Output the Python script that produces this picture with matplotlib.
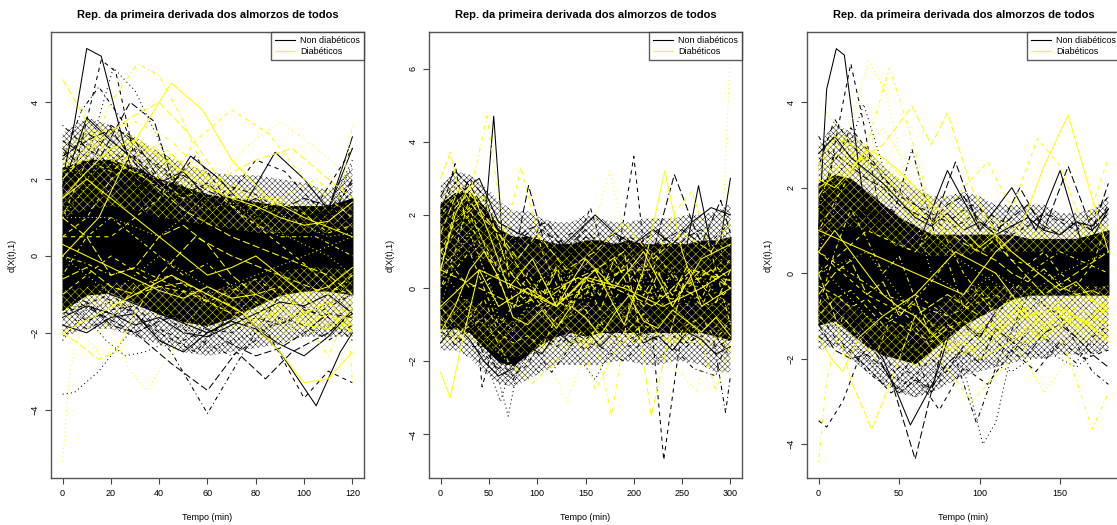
import matplotlib
matplotlib.use("Agg")
import matplotlib.pyplot as plt
from matplotlib.lines import Line2D

plt.rcParams['font.family'] = ['Liberation Sans', 'DejaVu Sans']
plt.rcParams['hatch.linewidth'] = 0.3

title = "Rep. da primeira derivada dos almorzos de todos"
xlabel = "Tempo (min)"
ylabel = "d(X(t),1)"
legend_labels = ["Non diabéticos", "Diabéticos"]

# ---------------- panel 1: 0-120 min ----------------
p1_grid = [0, 10, 20, 30, 40, 50, 60, 70, 80, 90, 100, 110, 120]
# solid core and looser outer fringe of the curve bundle
p1_core_hi = [2.3, 2.5, 2.5, 2.3, 2.0, 1.8, 1.6, 1.5, 1.4, 1.3, 1.3, 1.3, 1.5]
p1_core_lo = [-1.4, -1.0, -0.95, -1.2, -1.5, -1.7, -1.8, -1.6, -1.3, -1.0, -0.9, -0.9, -1.0]
p1_outer_hi = [3.2, 3.6, 3.4, 3.1, 2.7, 2.4, 2.2, 2.1, 2.1, 2.0, 1.9, 1.7, 2.3]
p1_outer_lo = [-2.1, -1.9, -1.9, -2.1, -2.3, -2.5, -2.6, -2.5, -2.4, -2.3, -2.1, -2.1, -2.1]
# yellow-heavy parts of the bundle
p1_ytop_hi = [2.9, 3.3, 3.3, 3.1, 2.8, 2.5, 2.2, 1.9, 1.7, 1.5, 1.4, 1.3, 1.4]
p1_ytop_lo = [1.0, 1.2, 1.3, 1.2, 1.0, 0.9, 0.8, 0.7, 0.6, 0.6, 0.6, 0.6, 0.7]
p1_ybot_hi = [-0.9, -0.8, -0.7, -0.7, -0.8, -0.9, -0.9, -0.8, -0.6, -0.4, -0.3, -0.3, -0.4]
p1_ybot_lo = [-1.5, -1.3, -1.3, -1.4, -1.6, -1.8, -1.9, -1.9, -1.9, -1.9, -1.9, -1.9, -1.9]

# individual curves with their own knots (t, value)
p1_black = [
    ([0, 5, 10, 16, 25, 35, 45, 60, 80, 100, 120], [2.0, 3.5, 5.4, 5.2, 3.0, 1.0, 0.0, -0.5, 0.0, 0.5, 1.0]),
    ([0, 8, 16, 22, 30, 40, 55, 75, 95, 120], [1.0, 3.0, 5.1, 4.8, 2.5, 0.5, -0.5, 0.0, 0.5, 1.5]),
    ([0, 10, 21, 30, 40, 50, 65, 85, 105, 120], [0.5, 2.5, 4.9, 4.3, 3.0, 1.5, 0.5, 0.0, 0.5, 2.5]),
    ([0, 8, 15, 25, 35, 50, 70, 90, 110, 120], [2.5, 3.8, 4.4, 3.5, 2.0, 0.5, -0.5, -0.5, 0.0, 1.0]),
    ([0, 15, 28, 38, 50, 65, 80, 100, 120], [1.0, 2.5, 4.0, 3.5, 1.0, 0.0, -0.5, 0.0, 0.5]),
    ([0, 15, 30, 42, 53, 65, 75, 88, 100, 110, 120], [0.5, 1.5, 2.0, 1.5, 2.6, 2.0, 1.3, 2.7, 2.0, 1.2, 3.1]),
    ([0, 20, 40, 55, 68, 80, 92, 105, 120], [1.5, 2.5, 1.5, 2.6, 1.5, 2.5, 2.2, 1.3, 2.8]),
    ([0, 5, 15, 25, 35, 45, 55, 70, 85, 100, 120], [-3.6, -3.55, -3.0, -2.2, -1.5, -1.5, -2.0, -1.5, -1.0, -0.5, 0.0]),
    ([0, 15, 30, 45, 60, 75, 90, 105, 120], [0.0, -1.0, -1.5, -2.5, -4.1, -2.5, -1.0, -1.5, -1.0]),
    ([0, 15, 30, 45, 60, 72, 84, 95, 110, 120], [-1.0, -1.5, -2.0, -2.8, -3.5, -2.5, -3.2, -2.5, -2.0, -1.5]),
    ([0, 20, 40, 60, 75, 90, 105, 115, 120], [-0.5, -1.0, -1.5, -2.0, -1.5, -2.5, -3.9, -2.5, -2.0]),
    ([0, 20, 40, 55, 70, 85, 100, 110, 120], [-1.5, -1.0, -2.0, -2.5, -1.5, -2.0, -3.7, -3.0, -3.3]),
    ([0, 10, 18, 26, 34, 45, 60, 80, 100, 120], [-1.0, -1.6, -2.2, -2.6, -2.5, -2.2, -2.5, -2.0, -1.5, -1.0]),
]
# curves sampled on the 10-min grid
p1_black_grid = [
    [2.5, 3.2, 2.8, 2.2, 2.4, 1.8, 1.3, 1.6, 1.2, 1.0, 1.3, 1.0, 1.7],
    [2.8, 2.2, 3.4, 3.0, 2.0, 1.6, 1.9, 1.3, 1.0, 1.4, 1.1, 0.9, 2.0],
    [1.8, 3.6, 3.0, 2.5, 1.9, 2.2, 1.5, 1.2, 1.5, 1.1, 0.9, 1.2, 2.8],
    [3.0, 2.6, 2.2, 2.6, 2.0, 1.5, 1.8, 1.4, 1.1, 1.3, 1.0, 1.2, 1.9],
    [2.0, 2.9, 2.6, 2.0, 2.2, 2.0, 1.6, 1.2, 1.4, 1.2, 0.8, 1.0, 2.4],
    [3.4, 2.8, 2.4, 2.8, 2.3, 1.7, 1.4, 1.8, 1.6, 1.2, 1.2, 0.9, 1.5],
    [2.6, 3.0, 3.3, 2.4, 1.8, 2.1, 1.7, 1.4, 1.0, 1.2, 1.5, 1.3, 1.0],
    [-1.6, -1.3, -1.5, -1.8, -1.6, -2.0, -2.1, -1.8, -1.5, -1.2, -1.3, -1.0, -1.5],
    [-1.2, -1.7, -1.4, -1.3, -1.9, -2.2, -1.9, -2.0, -1.6, -1.8, -1.4, -1.6, -2.2],
    [-2.2, -1.4, -1.2, -1.6, -2.0, -1.8, -2.4, -2.2, -2.0, -1.6, -2.1, -1.8, -1.2],
    [-1.4, -1.9, -1.6, -1.2, -1.5, -1.9, -2.3, -2.6, -2.2, -1.6, -1.8, -2.2, -1.8],
    [-1.0, -1.2, -1.8, -2.0, -1.7, -1.5, -1.9, -2.3, -2.6, -2.4, -2.0, -1.5, -1.6],
    [-1.8, -2.0, -1.6, -1.5, -2.2, -2.5, -2.0, -1.7, -1.9, -2.3, -2.6, -2.1, -1.4],
]

p1_yellow = [
    ([0, 3, 7, 12, 17, 22, 28, 35, 45, 60, 80, 100, 120], [-5.35, -3.0, -2.0, -2.3, -2.7, -2.2, -3.0, -3.5, -2.5, -1.0, -0.5, 0.0, 0.5]),
    ([0, 10, 20, 31, 40, 50, 60, 75, 90, 105, 120], [1.0, 2.5, 4.0, 5.0, 4.7, 3.5, 2.0, 1.0, 0.5, 0.5, 0.0]),
    ([0, 10, 20, 35, 50, 70, 90, 110, 120], [4.6, 3.5, 2.5, 2.0, 1.2, 0.5, 0.0, -0.5, -1.0]),
    ([0, 15, 30, 45, 58, 70, 85, 100, 120], [0.0, 1.0, 3.0, 4.5, 3.8, 2.5, 1.5, 1.0, 0.5]),
    ([0, 20, 40, 55, 70, 85, 100, 120], [0.5, 0.5, 1.5, 3.0, 3.8, 3.2, 2.0, 1.0]),
    ([0, 20, 40, 60, 75, 90, 105, 120], [1.0, 1.0, 0.5, 1.5, 2.8, 3.5, 2.8, 2.0]),
    ([0, 15, 30, 45, 60, 75, 90, 105, 115, 120], [2.0, 3.2, 3.5, 3.0, 2.0, 1.5, 1.5, 2.0, 1.5, 3.4]),
    ([0, 15, 28, 40, 52, 65, 80, 95, 110, 120], [2.0, 3.0, 3.6, 4.0, 3.2, 2.0, 2.5, 2.8, 2.0, 1.5]),
    ([0, 15, 30, 45, 60, 75, 90, 100, 110, 120], [-2.0, -1.5, -1.0, -0.5, -1.0, -1.5, -2.5, -3.3, -3.2, -2.5]),
    ([0, 20, 40, 55, 70, 85, 100, 110, 120], [-1.0, 0.0, -0.8, -1.0, -1.5, -2.2, -1.8, -1.5, -2.0]),
    ([0, 20, 40, 60, 75, 90, 100, 110, 120], [0.0, -1.0, 0.0, -0.8, -1.3, -2.3, -2.0, -1.3, -0.5]),
    ([0, 15, 30, 45, 60, 80, 95, 110, 118, 120], [-1.5, -2.0, -0.8, -0.5, -1.2, -0.6, -1.2, -2.6, -1.5, -3.3]),
    ([0, 7, 15, 22, 30, 40, 55, 70, 90, 110, 120], [-2.0, -2.3, -2.7, -2.5, -1.5, -0.5, 0.5, 0.0, -0.5, -1.0, -0.5]),
]
p1_yellow_grid = [
    [1.5, 2.0, 1.5, 1.0, 0.5, 0.0, -0.5, -0.3, 0.0, -0.5, -1.0, -0.8, -0.3],
    [0.5, 1.0, 2.0, 2.5, 2.0, 1.5, 1.8, 1.3, 0.8, 0.3, -0.2, -0.8, -1.0],
    [2.5, 2.0, 2.8, 2.2, 1.8, 1.5, 1.2, 1.4, 1.0, 0.6, 0.3, 0.0, -0.5],
    [-0.5, 0.5, 1.0, 0.5, 0.0, -0.5, -0.2, -0.8, -1.2, -1.6, -1.4, -1.8, -1.2],
    [1.0, 0.5, -0.5, -0.3, 0.5, 0.8, 0.3, -0.5, -1.0, -0.8, -1.5, -1.2, -1.8],
    [1.5, 2.2, 2.8, 3.0, 2.6, 2.2, 1.8, 1.5, 1.3, 1.0, 0.8, 0.9, 1.4],
    [2.2, 2.5, 2.2, 2.6, 2.9, 2.4, 2.0, 1.6, 1.2, 1.4, 1.1, 0.6, 0.8],
    [1.0, 1.8, 2.4, 2.2, 2.0, 2.5, 2.1, 1.7, 1.5, 1.1, 0.8, 0.5, 0.6],
    [0.0, -0.2, -0.5, -0.3, -0.6, -0.9, -1.2, -1.5, -1.4, -1.7, -1.5, -1.2, -1.6],
    [-0.6, -0.3, -0.8, -1.0, -0.8, -0.7, -1.0, -1.3, -1.7, -1.4, -1.1, -1.5, -1.9],
    [0.3, 0.0, -0.3, -0.6, -0.9, -1.1, -0.8, -1.1, -1.0, -1.3, -1.8, -1.9, -1.4],
]

# ---------------- panel 2: 0-300 min ----------------
p2_grid = [0, 15, 30, 45, 60, 75, 90, 105, 120, 135, 150, 165, 180, 195, 210, 225, 240, 255, 270, 285, 300]
p2_core_hi = [2.3, 2.6, 2.6, 2.2, 1.6, 1.4, 1.4, 1.3, 1.2, 1.2, 1.3, 1.3, 1.2, 1.3, 1.2, 1.2, 1.2, 1.2, 1.3, 1.3, 1.4]
p2_core_lo = [-1.1, -1.1, -1.2, -1.6, -2.0, -2.1, -1.8, -1.5, -1.3, -1.2, -1.3, -1.2, -1.2, -1.2, -1.2, -1.2, -1.2, -1.2, -1.2, -1.3, -1.4]
p2_outer_hi = [2.8, 3.2, 3.1, 2.8, 2.4, 2.1, 2.1, 1.9, 1.8, 1.8, 2.0, 1.9, 1.8, 1.8, 1.9, 1.9, 1.9, 2.0, 2.0, 2.1, 2.3]
p2_outer_lo = [-1.7, -1.7, -1.9, -2.3, -2.6, -2.7, -2.5, -2.3, -2.1, -2.1, -2.1, -2.1, -2.0, -2.0, -2.1, -2.1, -2.0, -2.0, -2.1, -2.3, -2.3]
p2_ytop_hi = [2.6, 2.9, 2.8, 2.4, 1.9, 1.5, 1.4, 1.3, 1.2, 1.2, 1.3, 1.3, 1.2, 1.3, 1.2, 1.2, 1.2, 1.2, 1.3, 1.3, 1.4]
p2_ytop_lo = [0.2, 0.6, 0.9, 0.8, 0.5, 0.3, 0.3, 0.4, 0.4, 0.4, 0.5, 0.4, 0.4, 0.4, 0.4, 0.4, 0.4, 0.4, 0.4, 0.5, 0.5]
p2_ybot_hi = [-0.4, -0.3, -0.3, -0.5, -0.8, -0.9, -0.6, -0.4, -0.4, -0.4, -0.4, -0.4, -0.4, -0.4, -0.4, -0.4, -0.4, -0.4, -0.4, -0.4, -0.4]
p2_ybot_lo = [-1.6, -1.4, -1.4, -1.6, -1.8, -1.9, -1.8, -1.7, -1.6, -1.6, -1.6, -1.6, -1.5, -1.5, -1.5, -1.5, -1.5, -1.5, -1.5, -1.6, -1.6]

p2_black = [
    ([0, 15, 30, 45, 55, 65, 80, 100, 130, 160, 200, 240, 270, 300], [0.5, 1.5, 1.0, 1.5, 4.7, 1.0, -1.0, -0.5, 0.3, -0.2, 0.4, -0.3, 0.2, 0.0]),
    ([0, 20, 40, 60, 90, 120, 150, 175, 200, 215, 231, 245, 260, 280, 300], [0.0, 1.0, 0.5, -1.0, 0.5, 0.0, 0.3, -0.5, 3.6, 0.0, -4.7, -2.0, 0.5, -0.5, 0.0]),
    ([0, 15, 35, 55, 70, 85, 100, 130, 160, 190, 220, 250, 280, 300], [1.0, 0.5, -0.5, -2.0, -3.5, -1.5, 0.5, 0.0, -0.5, 0.3, 0.0, -0.5, 0.5, 0.2]),
    ([0, 30, 60, 90, 120, 150, 180, 210, 240, 265, 280, 295, 300], [0.0, 0.5, -1.0, 0.0, -0.5, 0.5, 0.0, -0.5, 0.5, 0.2, -1.0, -3.4, -2.4]),
    ([0, 20, 45, 70, 91, 110, 135, 160, 185, 215, 242, 265, 285, 300], [1.0, 2.0, 0.5, 0.0, 2.8, 1.0, 0.0, -0.5, 0.0, 0.5, 3.1, 1.5, 0.5, 1.0]),
    ([0, 25, 50, 80, 110, 140, 170, 200, 230, 250, 267, 285, 300], [-0.5, 0.0, -1.0, 0.5, 0.0, -0.5, 0.5, 0.0, -1.0, 0.5, 2.8, 0.5, 3.0]),
    ([0, 15, 30, 43, 60, 80, 105, 130, 155, 175, 200, 225, 260, 300], [2.0, 3.4, 1.0, -2.7, -1.0, 0.5, 1.8, 0.5, 2.2, 0.5, -1.0, 0.5, -0.5, 0.0]),
    ([0, 20, 40, 62, 80, 100, 120, 140, 160, 180, 200, 225, 250, 275, 300], [-1.5, -0.5, -1.5, -3.1, -1.5, -2.3, -1.0, -1.8, -2.5, -1.5, -0.8, -2.0, -1.2, -1.8, -1.2]),
    ([0, 15, 35, 55, 75, 95, 115, 140, 165, 190, 215, 240, 262, 285, 300], [-0.8, -1.6, -1.0, -2.1, -2.5, -1.6, -2.3, -1.4, -1.6, -2.0, -1.3, -1.6, -2.2, -2.4, -1.0]),
    ([0, 15, 30, 50, 70, 90, 110, 130, 150, 170, 190, 210, 230, 250, 270, 290, 300], [2.5, 3.2, 2.8, 2.0, 1.2, 1.6, 1.8, 1.1, 1.6, 1.0, 1.4, 1.0, 1.3, 1.6, 1.2, 2.4, 1.5]),
    ([0, 20, 40, 60, 80, 100, 120, 140, 160, 180, 200, 220, 240, 260, 280, 300], [1.8, 2.6, 3.0, 1.8, 1.5, 1.3, 1.0, 1.5, 2.0, 1.5, 1.2, 1.6, 1.2, 1.8, 2.2, 2.0]),
]
p2_black_grid = [
    [-1.2, -1.4, -1.1, -1.8, -2.2, -2.0, -1.8, -1.3, -1.5, -1.2, -1.4, -1.1, -1.3, -1.6, -1.2, -1.4, -1.1, -1.5, -1.3, -1.6, -1.4],
    [1.2, 2.8, 2.0, 2.4, 1.6, 1.2, 1.4, 1.1, 1.3, 1.0, 1.2, 1.5, 1.1, 1.3, 1.0, 1.2, 1.4, 1.1, 1.5, 1.2, 1.6],
    [2.2, 2.9, 2.6, 2.2, 1.7, 1.2, 1.5, 1.0, 1.2, 1.5, 1.1, 1.3, 1.0, 1.4, 1.2, 0.9, 1.3, 1.1, 1.0, 1.4, 1.8],
    [1.5, 2.2, 3.0, 2.5, 1.5, 1.4, 1.1, 1.6, 1.3, 0.9, 1.4, 1.2, 1.5, 1.0, 1.3, 1.6, 1.0, 1.4, 1.6, 1.2, 1.1],
    [-1.5, -1.0, -1.4, -2.0, -2.4, -2.2, -1.6, -1.8, -1.2, -1.5, -1.1, -1.6, -1.2, -1.0, -1.5, -1.3, -1.7, -1.2, -1.4, -1.8, -1.6],
    [-0.6, -1.3, -1.6, -1.6, -2.0, -2.4, -2.1, -1.4, -1.6, -1.3, -1.7, -1.4, -1.0, -1.4, -1.2, -1.0, -1.3, -1.6, -1.1, -1.3, -1.9],
]

p2_yellow = [
    ([0, 30, 60, 90, 120, 150, 180, 210, 240, 270, 290, 300], [0.5, 1.5, -0.5, 0.0, 0.5, -0.3, 0.2, -0.5, 0.3, 0.0, 0.5, 6.5]),
    ([0, 15, 30, 48, 60, 75, 100, 130, 160, 200, 240, 280, 300], [0.0, 1.0, 2.5, 4.7, 2.5, -0.5, 0.0, -0.5, 0.3, 0.0, -0.3, 0.5, 0.0]),
    ([0, 10, 25, 45, 70, 100, 140, 180, 220, 260, 300], [3.0, 3.7, 2.0, 2.5, 0.5, -0.5, 0.3, 0.0, -0.5, 0.5, 0.2]),
    ([0, 10, 22, 40, 60, 90, 120, 150, 190, 230, 270, 300], [-2.3, -3.0, -1.5, 0.5, -0.5, 0.0, -0.5, 0.3, 0.0, -0.5, 0.0, 0.5]),
    ([0, 30, 60, 83, 105, 130, 160, 190, 220, 250, 280, 300], [1.0, 2.0, 0.5, 3.3, 1.0, -0.5, 0.0, 0.5, -0.3, 0.0, 0.5, 0.0]),
    ([0, 30, 60, 90, 120, 150, 162, 175, 190, 220, 260, 300], [0.5, -0.5, -1.5, -0.5, -1.0, 0.5, 2.0, 3.2, 1.5, -0.5, 0.5, -0.5]),
    ([0, 30, 60, 90, 120, 150, 165, 177, 195, 220, 250, 280, 300], [0.0, 1.0, -1.0, 0.0, -1.0, -0.5, -2.0, -3.5, -0.5, 1.0, 0.0, -0.5, 0.0]),
    ([0, 40, 80, 120, 160, 190, 205, 218, 235, 250, 270, 300], [0.5, 0.0, -0.5, 0.0, 0.5, 1.0, -1.0, -3.5, -1.5, 0.0, 0.5, 0.0]),
    ([0, 40, 80, 120, 160, 190, 210, 232, 250, 270, 300], [-0.5, 0.5, 0.0, -0.5, 0.5, -1.0, 0.5, 3.2, 1.0, -0.5, 0.0]),
    ([0, 30, 70, 110, 150, 190, 220, 240, 260, 280, 300], [1.0, 0.0, 0.5, -0.5, 0.0, 0.5, 0.5, 2.0, 2.65, 1.0, -1.0]),
    ([0, 25, 50, 80, 105, 130, 155, 175, 200, 230, 265, 285, 300], [-1.0, -0.5, -1.5, -2.3, -1.5, -3.1, -1.5, -0.5, -1.0, -1.8, -2.8, -1.0, -2.0]),
    ([0, 20, 45, 70, 95, 120, 145, 160, 185, 210, 240, 265, 285, 300], [-0.5, -1.2, -0.8, -2.0, -2.6, -2.0, -1.2, -2.8, -1.5, -1.0, -1.5, -1.0, -2.8, -1.5]),
    ([0, 20, 40, 60, 80, 100, 130, 160, 190, 220, 250, 280, 300], [1.5, 2.8, 2.0, 1.5, 0.8, 1.5, 0.5, 1.0, 1.8, 0.8, 1.5, 1.0, 1.8]),
    ([0, 15, 30, 50, 70, 95, 120, 150, 180, 210, 240, 270, 300], [0.5, 2.0, 2.8, 1.5, 0.0, 0.8, -0.5, 0.8, 0.0, 1.0, -0.5, 0.8, 1.2]),
]
p2_yellow_grid = [
    [1.0, 1.8, 2.2, 1.2, 0.2, -0.6, 0.4, -0.2, 0.6, -0.4, 0.2, -0.6, 0.3, 0.8, -0.2, 0.5, -0.5, 0.3, -0.3, 0.6, 0.2],
    [-0.5, 0.8, 1.5, 0.5, -0.8, -1.2, -0.5, 0.4, -0.3, 0.5, -0.6, 0.3, -0.4, -0.8, 0.4, -0.3, 0.6, -0.5, 0.4, -0.2, -0.6],
    [2.0, 2.5, 1.8, 1.0, 0.5, 0.0, -0.4, 0.3, -0.5, 0.4, -0.2, 0.6, -0.3, 0.2, 0.7, -0.1, 0.4, 0.0, -0.5, 0.3, 0.8],
    [0.5, 2.2, 2.6, 2.0, 1.5, 0.8, 0.2, -0.3, 0.5, -0.6, 0.3, -0.2, 0.8, 0.0, -0.5, 0.4, -0.2, 0.6, 0.1, -0.4, 0.5],
    [-1.2, -0.5, 0.5, 1.0, 0.3, -0.8, -1.0, -0.6, -1.1, -0.5, -0.8, -1.3, -0.7, -0.2, -0.9, -1.1, -0.6, -0.9, -1.2, -0.8, -1.3],
    [-0.8, -1.5, -0.8, -0.3, -1.2, -1.5, -1.3, -1.6, -0.8, -1.2, -1.6, -0.9, -1.4, -1.1, -0.7, -1.3, -1.5, -1.0, -0.8, -1.4, -0.9],
]

# ---------------- panel 3: 0-180 min ----------------
p3_grid = [0, 10, 20, 30, 40, 50, 60, 70, 80, 90, 100, 110, 120, 130, 140, 150, 160, 170, 180]
p3_core_hi = [2.1, 2.3, 2.2, 1.9, 1.6, 1.3, 1.1, 0.9, 0.9, 0.9, 0.9, 0.9, 0.9, 0.8, 0.8, 0.8, 0.8, 0.9, 1.0]
p3_core_lo = [-1.2, -1.1, -1.4, -1.7, -1.9, -2.0, -2.1, -1.8, -1.5, -1.2, -1.0, -0.8, -0.6, -0.5, -0.5, -0.5, -0.5, -0.5, -0.5]
p3_outer_hi = [3.0, 3.5, 3.3, 2.9, 2.5, 2.2, 2.0, 1.8, 1.8, 1.9, 1.8, 1.6, 1.6, 1.6, 1.6, 1.4, 1.4, 1.5, 1.8]
p3_outer_lo = [-1.8, -1.7, -2.0, -2.3, -2.6, -2.8, -2.9, -2.8, -2.6, -2.4, -2.3, -2.2, -2.1, -2.0, -2.0, -1.9, -1.9, -1.9, -1.8]
p3_ytop_hi = [2.8, 3.2, 3.2, 3.0, 2.7, 2.4, 2.1, 1.8, 1.6, 1.5, 1.4, 1.3, 1.2, 1.1, 1.1, 1.0, 1.0, 1.1, 1.2]
p3_ytop_lo = [0.8, 1.0, 1.1, 1.0, 0.8, 0.6, 0.5, 0.4, 0.4, 0.4, 0.5, 0.5, 0.5, 0.5, 0.5, 0.5, 0.5, 0.5, 0.6]
p3_ybot_hi = [-0.6, -0.5, -0.7, -1.0, -1.2, -1.2, -1.1, -0.9, -0.6, -0.4, -0.3, -0.3, -0.3, -0.3, -0.3, -0.3, -0.3, -0.3, -0.3]
p3_ybot_lo = [-1.3, -1.2, -1.5, -1.8, -2.0, -2.1, -2.2, -2.1, -2.0, -1.9, -1.8, -1.7, -1.6, -1.6, -1.6, -1.6, -1.6, -1.6, -1.6]

p3_black = [
    ([0, 5, 11, 16, 25, 35, 45, 60, 80, 100, 120, 140, 160, 180], [1.0, 4.3, 5.25, 5.1, 2.5, 0.0, -1.0, -0.5, 0.0, 0.5, 0.0, -0.3, 0.0, 0.5]),
    ([0, 10, 20, 28, 40, 55, 70, 90, 110, 130, 150, 180], [0.5, 3.0, 4.9, 3.5, 1.0, -1.5, -1.0, 0.0, 0.5, 0.0, -0.5, 0.0]),
    ([0, 15, 28, 40, 55, 75, 95, 120, 150, 180], [1.5, 2.5, 3.95, 2.5, 0.0, -1.0, -0.5, 0.5, 0.0, -0.5]),
    ([0, 20, 40, 58, 75, 95, 115, 140, 165, 180], [0.0, -0.5, 0.5, 2.9, 0.5, -1.0, 0.0, 0.3, -0.5, 0.0]),
    ([0, 15, 30, 45, 60, 75, 90, 110, 130, 150, 180], [1.0, 0.0, -1.5, -2.5, -4.35, -2.0, 0.0, 0.5, -0.5, 0.0, -0.5]),
    ([0, 20, 40, 57, 72, 85, 100, 125, 150, 180], [-0.5, -1.0, -2.0, -3.55, -2.5, -1.0, -1.5, 0.0, -0.5, 0.0]),
    ([0, 5, 15, 25, 35, 50, 65, 80, 100, 120, 140, 160, 180], [-3.45, -3.6, -3.0, -2.0, -1.5, -2.5, -1.5, -1.0, -1.5, -0.5, 0.0, -0.5, 0.5]),
    ([0, 20, 40, 60, 80, 92, 102, 110, 125, 145, 165, 180], [0.5, 1.0, -0.5, -1.5, -1.0, -2.5, -4.0, -3.5, -1.0, -0.5, 0.0, 0.5]),
    ([0, 25, 50, 70, 85, 98, 112, 130, 150, 170, 180], [0.0, -0.5, -1.0, -2.8, -2.0, -3.5, -2.0, -0.5, -1.0, -2.3, -2.6]),
    ([0, 20, 45, 65, 85, 105, 125, 140, 155, 170, 180], [1.0, 0.5, 1.5, 0.5, 2.6, 0.5, 2.0, 1.0, 2.5, 1.0, 2.1]),
    ([0, 30, 60, 80, 100, 120, 135, 150, 165, 180], [0.5, 1.5, 0.5, 2.4, 1.0, 2.0, 1.0, 2.4, 0.5, 1.5]),
    ([0, 15, 30, 45, 60, 75, 90, 105, 120, 135, 150, 165, 180], [-1.5, -1.7, -2.2, -2.8, -2.4, -3.2, -2.2, -2.6, -1.8, -2.3, -1.6, -2.0, -1.8]),
    ([0, 20, 40, 60, 80, 100, 120, 140, 160, 180], [-1.0, -1.5, -2.5, -2.9, -2.2, -2.0, -2.3, -1.8, -2.2, -1.6]),
    ([0, 10, 20, 35, 50, 65, 80, 95, 110, 125, 140, 155, 170, 180], [2.5, 3.6, 3.0, 2.5, 1.8, 1.5, 1.2, 1.6, 1.3, 1.0, 1.4, 1.2, 1.0, 1.6]),
]
p3_black_grid = [
    [1.5, 2.8, 2.5, 2.2, 2.0, 1.6, 1.4, 1.2, 1.6, 1.8, 1.2, 1.0, 1.3, 1.6, 1.1, 0.9, 1.2, 1.0, 1.4],
    [2.8, 3.2, 2.7, 2.4, 2.1, 1.7, 1.3, 1.1, 1.4, 1.0, 1.2, 0.9, 1.1, 1.3, 1.0, 0.9, 1.2, 1.1, 1.5],
    [3.2, 2.6, 3.4, 2.9, 2.2, 1.9, 1.6, 1.3, 1.0, 1.2, 1.5, 1.1, 0.9, 1.1, 1.4, 1.2, 1.0, 1.3, 1.8],
    [-1.5, -1.2, -1.6, -2.0, -2.3, -2.5, -2.6, -2.3, -1.8, -2.0, -1.6, -1.9, -1.5, -1.7, -2.0, -1.6, -1.4, -1.7, -1.3],
    [-0.9, -1.5, -1.8, -2.3, -2.6, -2.2, -2.4, -2.0, -2.3, -1.7, -1.4, -1.6, -1.9, -1.3, -1.5, -1.8, -2.1, -1.5, -1.2],
    [-1.2, -1.8, -2.0, -1.9, -2.2, -2.8, -2.5, -2.7, -2.1, -1.8, -2.1, -1.3, -1.6, -1.9, -1.4, -1.2, -1.5, -1.9, -2.2],
]

p3_yellow = [
    ([0, 10, 20, 31, 42, 55, 70, 90, 110, 130, 150, 180], [0.5, 1.5, 3.5, 5.0, 4.2, 2.0, 0.0, -0.5, 0.0, -0.5, 0.0, 0.5]),
    ([0, 15, 30, 44, 55, 70, 90, 110, 130, 150, 180], [1.0, 2.0, 3.0, 4.8, 3.5, 1.5, 0.0, -1.0, 0.0, 0.5, 0.0]),
    ([0, 20, 40, 58, 70, 80, 95, 115, 140, 160, 180], [2.0, 2.5, 3.0, 3.9, 3.0, 3.75, 2.0, 0.5, -0.5, 0.0, 0.5]),
    ([0, 30, 60, 90, 110, 125, 140, 155, 168, 180], [1.0, 0.5, 0.0, -0.5, 0.5, 1.0, 2.5, 3.7, 2.0, 0.5]),
    ([0, 30, 60, 90, 105, 120, 136, 150, 165, 180], [0.0, 1.0, 0.5, 2.0, 2.6, 1.5, 3.15, 2.5, 1.0, 2.7]),
    ([0, 10, 25, 40, 60, 80, 100, 120, 140, 160, 180], [4.0, 3.5, 2.5, 2.0, 1.5, 0.5, 0.0, -0.5, -1.0, -0.5, -1.0]),
    ([0, 5, 15, 25, 35, 45, 60, 80, 100, 130, 160, 180], [-4.4, -2.5, -1.0, -1.5, -2.0, -1.0, -0.5, -1.0, -1.5, -1.0, -0.5, -0.8]),
    ([0, 10, 20, 33, 45, 60, 80, 100, 120, 140, 160, 180], [0.0, -1.0, -2.5, -3.65, -2.5, -1.0, -0.5, -1.0, -1.5, -1.0, -0.8, -1.2]),
    ([0, 8, 15, 25, 40, 60, 85, 110, 130, 150, 180], [-1.5, -2.0, -2.3, -1.5, -1.0, -0.5, 0.5, 0.0, -1.0, -0.8, -1.5]),
    ([0, 30, 55, 75, 95, 115, 135, 155, 180], [0.5, -0.5, -1.0, -2.0, -3.0, -2.2, -1.5, -1.0, -1.3]),
    ([0, 30, 60, 90, 110, 125, 140, 155, 170, 180], [0.0, 0.5, -1.0, -1.5, -1.0, -1.8, -2.8, -2.0, -1.0, -0.5]),
    ([0, 40, 80, 110, 130, 150, 160, 170, 180], [0.5, -0.5, -1.0, -0.5, -1.0, -1.5, -2.5, -3.65, -2.8]),
]
p3_yellow_grid = [
    [-0.5, 0.0, 0.3, -0.5, -0.2, -1.0, -0.6, -1.5, -1.2, -1.5, -1.2, -1.5, -1.0, -0.8, -1.2, -1.0, -1.3, -1.1, -0.8],
    [0.5, 1.0, 0.5, 0.0, -0.5, -0.8, -1.0, -1.4, -1.8, -1.6, -2.0, -1.8, -1.6, -1.3, -1.5, -1.2, -1.0, -1.3, -1.6],
    [2.5, 3.2, 3.0, 2.8, 2.4, 2.2, 1.8, 1.5, 1.2, 0.8, 0.5, 0.8, 0.3, 0.2, 0.5, 0.0, -0.3, 0.2, 1.2],
    [1.5, 2.8, 2.5, 3.0, 3.4, 2.8, 2.5, 1.5, 1.8, 1.4, 1.0, 0.8, 0.5, 0.2, 0.0, -0.2, -0.5, -0.4, -0.3],
    [-0.8, 0.5, 1.5, 0.8, 0.0, 0.4, -0.6, -0.2, 0.3, -0.8, -0.4, -0.9, -0.6, -1.1, -0.7, -0.9, -1.2, -0.8, -1.0],
    [1.8, 2.4, 2.8, 2.6, 2.3, 1.9, 1.5, 1.2, 1.0, 0.7, 0.5, 0.3, 0.0, -0.2, 0.1, -0.3, -0.5, -0.4, -0.6],
    [2.2, 2.0, 2.4, 2.9, 2.7, 2.4, 2.0, 1.6, 1.3, 1.0, 0.6, 0.9, 0.5, 0.2, -0.1, -0.4, -0.2, -0.6, -0.9],
    [-0.3, -0.5, -0.8, -0.6, -1.0, -1.2, -1.4, -1.6, -1.3, -1.1, -1.4, -1.2, -0.9, -1.1, -1.3, -0.9, -1.0, -1.2, -0.7],
    [0.2, -0.2, -0.6, -1.0, -1.3, -1.5, -1.8, -2.0, -1.7, -1.4, -1.6, -1.3, -1.1, -0.9, -1.2, -1.4, -0.8, -1.0, -1.3],
    [-1.0, -0.6, -0.4, -0.8, -1.2, -1.0, -0.7, -1.2, -1.6, -1.9, -1.7, -2.0, -1.8, -1.5, -1.2, -1.0, -1.3, -1.0, -0.6],
]

# R matplot line types: solid, dashed, dotted, dotdash, longdash
r_lty = ['-', (0, (4, 4)), (0, (1, 3)), (0, (1, 3, 4, 3)), (0, (7, 3))]

panels = [
    dict(grid=p1_grid, hi=p1_core_hi, lo=p1_core_lo, ohi=p1_outer_hi, olo=p1_outer_lo,
         yt=(p1_ytop_lo, p1_ytop_hi), yb=(p1_ybot_lo, p1_ybot_hi),
         black=p1_black + [(p1_grid, v) for v in p1_black_grid],
         yellow=p1_yellow + [(p1_grid, v) for v in p1_yellow_grid],
         left=51, xlim=(-4.8, 124.8), ylim=(-5.78, 5.83),
         xticks=[0, 20, 40, 60, 80, 100, 120], yticks=[-4, -2, 0, 2, 4]),
    dict(grid=p2_grid, hi=p2_core_hi, lo=p2_core_lo, ohi=p2_outer_hi, olo=p2_outer_lo,
         yt=(p2_ytop_lo, p2_ytop_hi), yb=(p2_ybot_lo, p2_ybot_hi),
         black=p2_black + [(p2_grid, v) for v in p2_black_grid],
         yellow=p2_yellow + [(p2_grid, v) for v in p2_yellow_grid],
         left=429, xlim=(-12, 312), ylim=(-5.19, 7.0),
         xticks=[0, 50, 100, 150, 200, 250, 300], yticks=[-4, -2, 0, 2, 4, 6]),
    dict(grid=p3_grid, hi=p3_core_hi, lo=p3_core_lo, ohi=p3_outer_hi, olo=p3_outer_lo,
         yt=(p3_ytop_lo, p3_ytop_hi), yb=(p3_ybot_lo, p3_ybot_hi),
         black=p3_black + [(p3_grid, v) for v in p3_black_grid],
         yellow=p3_yellow + [(p3_grid, v) for v in p3_yellow_grid],
         left=807, xlim=(-7.2, 187.2), ylim=(-4.79, 5.64),
         xticks=[0, 50, 100, 150], yticks=[-4, -2, 0, 2, 4]),
]

W, H = 1117, 525
fig = plt.figure(figsize=(W / 100, H / 100), dpi=100)

for p in panels:
    ax = fig.add_axes([p['left'] / W, 47 / H, 313 / W, 446 / H])

    # loose fringe of the bundle, then its solid core
    ax.fill_between(p['grid'], p['olo'], p['ohi'], facecolor='none', edgecolor='black',
                    hatch='xxxxxx', lw=0, zorder=0.5)
    ax.fill_between(p['grid'], p['lo'], p['hi'], color='black', lw=0.8, zorder=1)
    # diabetic curves showing through the core
    for lo, hi in (p['yt'], p['yb']):
        ax.fill_between(p['grid'], lo, hi, facecolor='none', edgecolor='#ffff00',
                        hatch='xxxx', lw=0, zorder=1.5)

    for i, (t, v) in enumerate(p['black']):
        ax.plot(t, v, color='black', lw=0.75, ls=r_lty[i % 5], zorder=2)
    for i, (t, v) in enumerate(p['yellow']):
        ax.plot(t, v, color='#ffff00', lw=0.75, ls=r_lty[(i + 2) % 5], zorder=3)

    ax.set_xlim(*p['xlim'])
    ax.set_ylim(*p['ylim'])
    ax.set_xticks(p['xticks'])
    ax.set_yticks(p['yticks'])
    ax.tick_params(length=4, width=0.8, color='#444444', labelsize=6.5, pad=4)
    for lab in ax.get_yticklabels():
        lab.set_rotation(90)
        lab.set_va('center')
    for s in ax.spines.values():
        s.set_color('#555555')
        s.set_linewidth(1.0)

    ax.set_title(title, fontsize=8, fontweight='bold', pad=10)
    ax.set_xlabel(xlabel, fontsize=6.5, labelpad=11)
    ax.set_ylabel(ylabel, fontsize=6.5, labelpad=10)

    handles = [Line2D([], [], color='black', lw=0.8), Line2D([], [], color='#ffff00', lw=0.8)]
    leg = ax.legend(handles, legend_labels, loc='upper right', bbox_to_anchor=(1, 1),
                    borderaxespad=0, fontsize=6.5, frameon=True, fancybox=False,
                    handlelength=2.2, handletextpad=0.6, labelspacing=0.2,
                    borderpad=0.45)
    leg.get_frame().set_edgecolor('#333333')
    leg.get_frame().set_linewidth(1.0)
    leg.set_zorder(5)

fig.savefig('out.png', dpi=100)
